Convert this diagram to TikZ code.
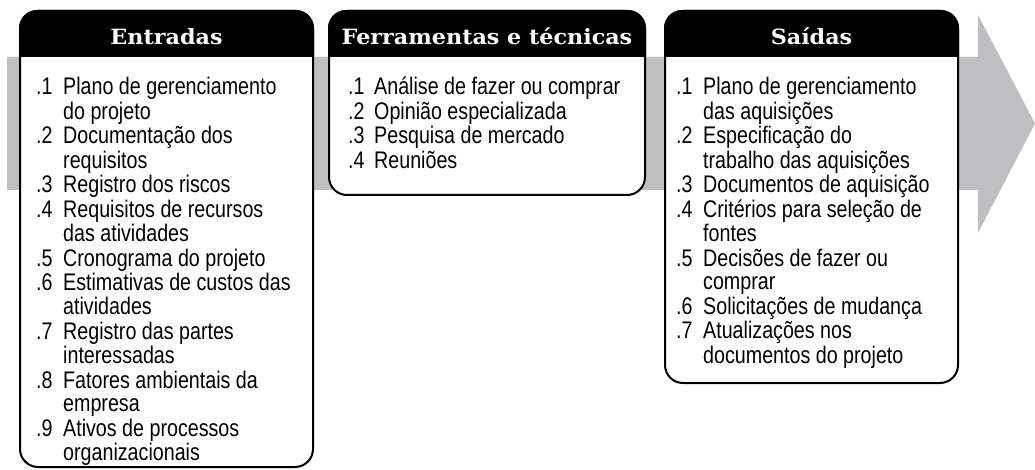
\documentclass[tikz,border=0pt]{standalone}
\usepackage{fontspec}
\newfontfamily\itemfont{Liberation Sans}[FakeStretch=0.82]
\newfontfamily\headfont{DejaVu Serif}[FakeStretch=1.06]
\definecolor{bandgray}{RGB}{190,191,193}
\usetikzlibrary{positioning}

\begin{document}
\begin{tikzpicture}[x=1pt, y=-1pt,
  panel/.style={rectangle, draw=black, line width=2pt, fill=white, rounded corners=18pt, inner sep=0pt},
  headtext/.style={text=white, font=\headfont\bfseries\fontsize{21}{21}\selectfont, inner sep=0pt, anchor=base},
  itemlist/.style={anchor=base west, inner sep=0pt, align=left, font=\itemfont\fontsize{24}{23.5}\selectfont}
]
  \useasboundingbox (0,0) rectangle (1035,470);

  % process arrow behind the panels
  \fill[bandgray] (7,57) -- (978,57) -- (978,15) -- (1035,123.5) -- (978,233) -- (978,190) -- (7,190) -- cycle;

  \node[panel, minimum width=293pt, minimum height=456pt] (inputs) at (166.5,239) {};
  \node[panel, minimum width=316pt, minimum height=184pt] (tools) at (487,103) {};
  \node[panel, minimum width=293pt, minimum height=372pt] (outputs) at (811.5,197) {};

  \foreach \b in {inputs,tools,outputs} {
    \fill[black] (\b.west |- 0,57) [rounded corners=18pt] -- (\b.north west) -- (\b.north east) [sharp corners] -- (\b.east |- 0,57) -- cycle;
  }

  \node[headtext] (inputshead) at (inputs.north |- 0,45) {Entradas};
  \node[headtext] (toolshead) at (tools.north |- 0,45) {Ferramentas e técnicas};
  \node[headtext] (outputshead) at (outputs.north |- 0,45) {Saídas};

  \node[itemlist] (inputslist) at (36,95) {%
    \begin{tabular}[t]{@{}p{27pt}@{}l@{}}
      .1 & Plano de gerenciamento\\
         & do projeto\\
      .2 & Documentação dos\\
         & requisitos\\
      .3 & Registro dos riscos\\
      .4 & Requisitos de recursos\\
         & das atividades\\
      .5 & Cronograma do projeto\\
      .6 & Estimativas de custos das\\
         & atividades\\
      .7 & Registro das partes\\
         & interessadas\\
      .8 & Fatores ambientais da\\
         & empresa\\
      .9 & Ativos de processos\\
         & organizacionais
    \end{tabular}};

  \node[itemlist] (toolslist) at (348,95) {%
    \begin{tabular}[t]{@{}p{26pt}@{}l@{}}
      .1 & Análise de fazer ou comprar\\
      .2 & Opinião especializada\\
      .3 & Pesquisa de mercado\\
      .4 & Reuniões
    \end{tabular}};

  \node[itemlist] (outputslist) at (676,95) {%
    \begin{tabular}[t]{@{}p{27pt}@{}l@{}}
      .1 & Plano de gerenciamento\\
         & das aquisições\\
      .2 & Especificação do\\
         & trabalho das aquisições\\
      .3 & Documentos de aquisição\\
      .4 & Critérios para seleção de\\
         & fontes\\
      .5 & Decisões de fazer ou\\
         & comprar\\
      .6 & Solicitações de mudança\\
      .7 & Atualizações nos\\
         & documentos do projeto
    \end{tabular}};
\end{tikzpicture}
\end{document}
